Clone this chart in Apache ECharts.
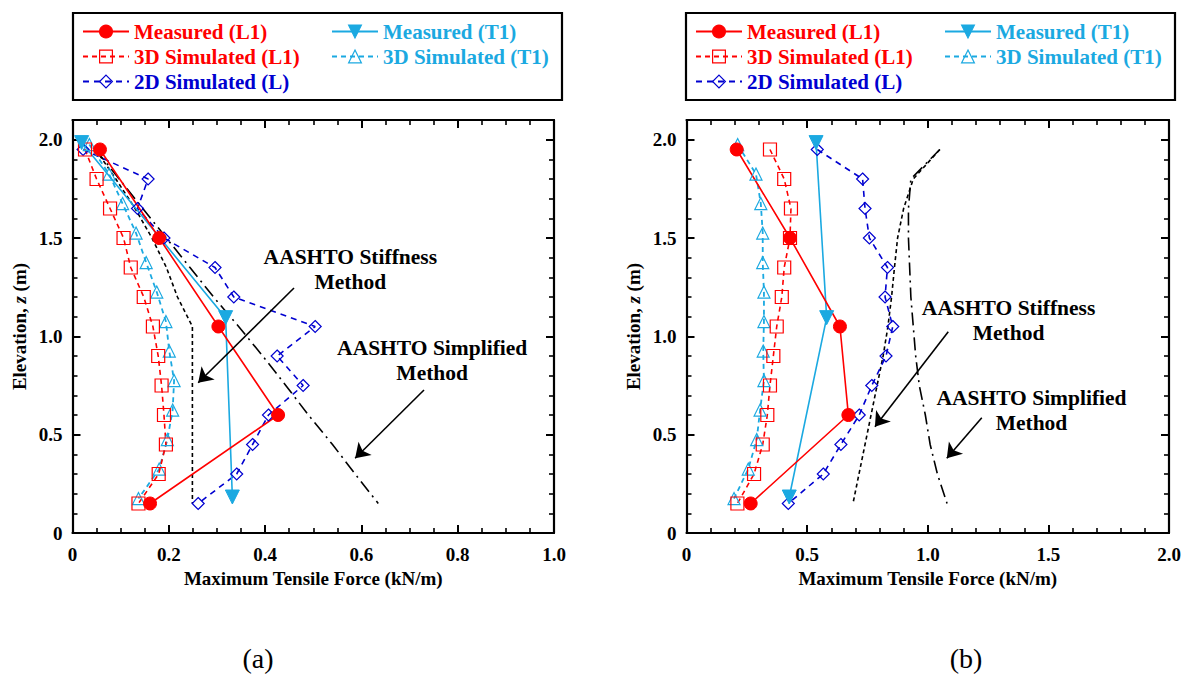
<!DOCTYPE html>
<html><head><meta charset="utf-8">
<script src="https://cdn.jsdelivr.net/npm/echarts@6/dist/echarts.min.js"></script>
<style>html,body{margin:0;padding:0;background:#fff}#c{width:1189px;height:675px}</style>
</head><body><div id="c"></div>
<script>
// ---------- data ----------
const elevL = [1.95,1.8,1.65,1.5,1.35,1.2,1.05,0.9,0.75,0.6,0.45,0.3,0.15];
const elevT = [1.975,1.825,1.675,1.525,1.375,1.225,1.075,0.925,0.775,0.625,0.475,0.325,0.175];
const elevMeasL = [1.95,1.5,1.05,0.6,0.15];
const elevMeasT = [1.985,1.095,0.183];
const elevStiffA = [1.95,1.8,1.65,1.5,1.35,1.2,1.05,0.15];

// panel (a)
const aMeasL1 = [0.057,0.18,0.303,0.427,0.161];
const aMeasT1 = [0.019,0.318,0.332];
const a3DL1 = [0.026,0.050,0.078,0.106,0.121,0.148,0.167,0.178,0.185,0.190,0.194,0.179,0.137];
const a3DT1 = [0.035,0.076,0.104,0.132,0.153,0.175,0.194,0.201,0.211,0.208,0.197,0.180,0.137];
const a2DL  = [0.022,0.157,0.135,0.190,0.296,0.335,0.504,0.425,0.479,0.407,0.374,0.341,0.261];
const aStiff = [0.048,0.09,0.13,0.165,0.195,0.218,0.249,0.249];
const aSimp  = [0.048,0.097,0.146,0.195,0.244,0.293,0.345,0.395,0.443,0.49,0.54,0.587,0.635];

// panel (b)
const bMeasL1 = [0.208,0.429,0.636,0.671,0.266];
const bMeasT1 = [0.537,0.581,0.426];
const b3DL1 = [0.346,0.405,0.433,0.429,0.405,0.395,0.374,0.36,0.346,0.335,0.316,0.28,0.211];
const b3DT1 = [0.212,0.288,0.308,0.316,0.316,0.321,0.321,0.318,0.321,0.305,0.291,0.256,0.197];
const b2DL  = [0.542,0.73,0.74,0.758,0.833,0.823,0.855,0.827,0.768,0.716,0.64,0.567,0.422];
const bStiff = [1.05,0.94,0.90,0.875,0.862,0.85,0.835,0.815,0.79,0.765,0.74,0.715,0.69];
const bSimp  = [1.05,0.93,0.92,0.92,0.925,0.93,0.94,0.95,0.965,0.99,1.01,1.04,1.08];

// annotations (data coordinates)
const annA = [
  {text:'AASHTO Stiffness\nMethod', pos:[0.577,1.34], arrow:[[0.46,1.246],[0.261,0.764]]},
  {text:'AASHTO Simplified\nMethod', pos:[0.747,0.877], arrow:[[0.73,0.727],[0.587,0.38]]}
];
const annB = [
  {text:'AASHTO Stiffness\nMethod', pos:[1.335,1.079], arrow:[[1.085,1.023],[0.781,0.54]]},
  {text:'AASHTO Simplified\nMethod', pos:[1.43,0.621], arrow:[[1.224,0.586],[1.079,0.38]]}
];

const xTicksA = {max:1.0, interval:0.2, minor:4};
const xTicksB = {max:2.0, interval:0.5, minor:5};
const yTicks = {max:2.1, interval:0.5, minor:5};

// ---------- styling ----------
const RED = '#ff0000', CYAN = '#1ba9e1', BLUE = '#0000d0', BLACK = '#000';
const FONT = '"Liberation Serif", "Times New Roman", serif';
const zip = (xs, ys) => xs.map((x, i) => [x, ys[i]]);
const fmt = v => (v === 0 ? '0' : v.toFixed(1));

function xAxes(grid, t, withName) {
  const base = {
    type:'value', gridIndex:grid, min:0, max:t.max, interval:t.interval,
    splitLine:{show:false},
    axisLine:{show:true, onZero:false, lineStyle:{color:BLACK, width:2.2}},
    axisTick:{show:true, inside:true, length:8, lineStyle:{color:BLACK, width:2}},
    minorTick:{show:true, splitNumber:t.minor, length:5, lineStyle:{color:BLACK, width:1.6}}
  };
  return [
    Object.assign({}, base, {
      position:'bottom',
      axisLabel:{show:true, formatter:fmt, color:BLACK, fontFamily:FONT, fontWeight:'bold', fontSize:19, margin:12},
      name: withName, nameLocation:'middle', nameGap:36,
      nameTextStyle:{color:BLACK, fontFamily:FONT, fontWeight:'bold', fontSize:19}
    }),
    Object.assign({}, base, {position:'top', axisLabel:{show:false}})
  ];
}
function yAxes(grid, t) {
  const base = {
    type:'value', gridIndex:grid, min:0, max:t.max, interval:t.interval,
    splitLine:{show:false},
    axisLine:{show:true, onZero:false, lineStyle:{color:BLACK, width:2.2}},
    axisTick:{show:true, inside:true, length:8, lineStyle:{color:BLACK, width:2}},
    minorTick:{show:true, splitNumber:t.minor, length:5, lineStyle:{color:BLACK, width:1.6}}
  };
  return [
    Object.assign({}, base, {
      position:'left',
      axisLabel:{show:true, formatter:fmt, showMaxLabel:false, color:BLACK, fontFamily:FONT, fontWeight:'bold', fontSize:19, margin:10},
      name:'Elevation, {i|z} (m)', nameLocation:'middle', nameGap:44, nameRotate:90,
      nameTextStyle:{color:BLACK, fontFamily:FONT, fontWeight:'bold', fontSize:19,
        rich:{i:{fontStyle:'italic', fontWeight:'bold', fontFamily:FONT, fontSize:19, color:BLACK}}}
    }),
    Object.assign({}, base, {position:'right', axisLabel:{show:false}})
  ];
}

function seriesFor(grid, d, ann) {
  const ax = {xAxisIndex:grid*2, yAxisIndex:grid*2};
  const common = Object.assign({type:'line', animation:false, emphasis:{disabled:true}, z:3}, ax);
  const arrow = a => ({
    silent:true, animation:false, symbol:['none','arrow'], symbolSize:14,
    label:{show:false}, lineStyle:{color:BLACK, width:1.6, type:'solid'},
    itemStyle:{color:BLACK},
    data:[[{coord:a.arrow[0]},{coord:a.arrow[1]}]]
  });
  return [
    Object.assign({}, common, {name:'AASHTO Stiffness Method', data:zip(d.stiff, d.stiffElev), symbol:'none',
      lineStyle:{color:BLACK, width:1.6, type:[4,3]}, markLine:arrow(ann[0])}),
    Object.assign({}, common, {name:'AASHTO Simplified Method', data:zip(d.simp, elevL), symbol:'none',
      lineStyle:{color:BLACK, width:1.6, type:[13,5,2,5]}, markLine:arrow(ann[1])}),
    Object.assign({}, common, {name:'2D Simulated (L)', data:zip(d.d2, elevL), symbol:'diamond', symbolSize:12,
      itemStyle:{color:'rgba(255,255,255,0)', borderColor:BLUE, borderWidth:1.2},
      lineStyle:{color:BLUE, width:1.6, type:[6,5]}}),
    Object.assign({}, common, {name:'3D Simulated (T1)', data:zip(d.t3, elevT), symbol:'triangle', symbolSize:12,
      itemStyle:{color:'rgba(255,255,255,0)', borderColor:CYAN, borderWidth:1.2},
      lineStyle:{color:CYAN, width:1.8, type:[5,4]}}),
    Object.assign({}, common, {name:'3D Simulated (L1)', data:zip(d.l3, elevL), symbol:'rect', symbolSize:13,
      itemStyle:{color:'rgba(255,255,255,0)', borderColor:RED, borderWidth:1.2},
      lineStyle:{color:RED, width:1.6, type:[5,4]}}),
    Object.assign({}, common, {name:'Measured (T1)', data:zip(d.mt, elevMeasT), symbol:'triangle', symbolRotate:180, symbolSize:14,
      itemStyle:{color:CYAN, borderColor:CYAN, borderWidth:1},
      lineStyle:{color:CYAN, width:1.6}}),
    Object.assign({}, common, {name:'Measured (L1)', data:zip(d.ml, elevMeasL), symbol:'circle', symbolSize:13,
      itemStyle:{color:RED, borderColor:RED, borderWidth:1},
      lineStyle:{color:RED, width:1.6}})
  ];
}

const legendText = (name, color) => ({name, textStyle:{color}});
function legendsAt(x0, x1) {
  const common = {orient:'vertical', top:21, padding:0, itemGap:4, itemWidth:46, itemHeight:16,
    selectedMode:false,
    itemStyle:{borderWidth:1.2},
    textStyle:{fontFamily:FONT, fontWeight:'bold', fontSize:21, lineHeight:19}};
  return [
    Object.assign({}, common, {left:x0, data:[
      legendText('Measured (L1)', RED), legendText('3D Simulated (L1)', RED), legendText('2D Simulated (L)', BLUE)]}),
    Object.assign({}, common, {left:x1, data:[
      legendText('Measured (T1)', CYAN), legendText('3D Simulated (T1)', CYAN)]})
  ];
}

const chart = echarts.init(document.getElementById('c'), null, {renderer:'svg'});
const option = {
  backgroundColor:'#fff',
  animation:false,
  grid:[
    {left:72.5, top:120, width:481.5, height:413, containLabel:false},
    {left:686.5, top:120, width:482.5, height:413, containLabel:false}
  ],
  xAxis:[...xAxes(0, xTicksA, 'Maximum Tensile Force (kN/m)'), ...xAxes(1, xTicksB, 'Maximum Tensile Force (kN/m)')],
  yAxis:[...yAxes(0, yTicks), ...yAxes(1, yTicks)],
  legend:[...legendsAt(82, 331), ...legendsAt(695, 944)],
  series:[
    ...seriesFor(0, {ml:aMeasL1, mt:aMeasT1, l3:a3DL1, t3:a3DT1, d2:a2DL, stiff:aStiff, stiffElev:elevStiffA, simp:aSimp}, annA),
    ...seriesFor(1, {ml:bMeasL1, mt:bMeasT1, l3:b3DL1, t3:b3DT1, d2:b2DL, stiff:bStiff, stiffElev:elevL, simp:bSimp}, annB)
  ]
};
chart.setOption(option);

// graphic: legend boxes, panel labels, annotation text placed through the axes' scales
const g = [
  {type:'rect', shape:{x:73, y:13, width:489, height:87}, style:{fill:'none', stroke:BLACK, lineWidth:2.2}, z:0},
  {type:'rect', shape:{x:686, y:13, width:489, height:87}, style:{fill:'none', stroke:BLACK, lineWidth:2.2}, z:0},
  {type:'text', x:258, y:658, style:{text:'(a)', font:'28px ' + FONT, fill:BLACK, textAlign:'center', textVerticalAlign:'middle', align:'center', verticalAlign:'middle'}},
  {type:'text', x:966, y:658, style:{text:'(b)', font:'28px ' + FONT, fill:BLACK, textAlign:'center', textVerticalAlign:'middle', align:'center', verticalAlign:'middle'}}
];
[[annA,0],[annB,1]].forEach(([ann, gi]) => {
  ann.forEach(a => {
    const p = chart.convertToPixel({xAxisIndex:gi*2, yAxisIndex:gi*2}, a.pos);
    g.push({type:'text', x:p[0], y:p[1], style:{text:a.text, font:'bold 21.5px ' + FONT, fill:BLACK,
      textAlign:'center', textVerticalAlign:'middle', align:'center', verticalAlign:'middle', lineHeight:25}});
  });
});
chart.setOption({graphic:g});
</script></body></html>
